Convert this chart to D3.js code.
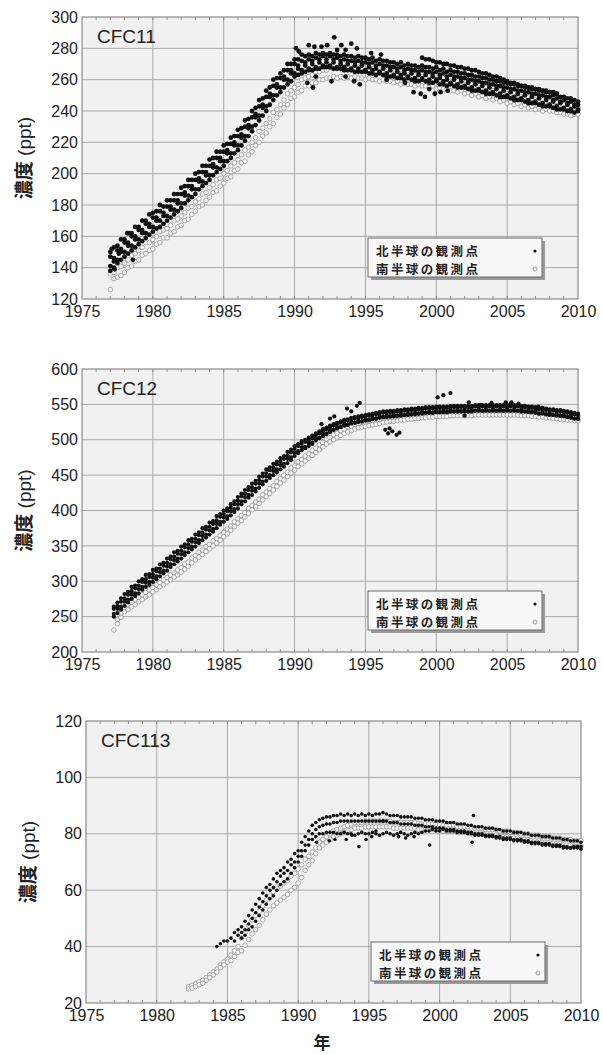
<!DOCTYPE html>
<html>
<head>
<meta charset="utf-8">
<script src="https://cdn.jsdelivr.net/npm/d3@7"></script>
<style>
  body { margin: 0; background: #fff; }
  svg { display: block; }
  text { font-family: "Liberation Sans", Arial, Helvetica, sans-serif; }
  .jp { font-family: "Noto Sans CJK JP", "Noto Sans CJK SC", sans-serif; }
</style>
</head>
<body>
<div id="chart"></div>
<script>
// ---- tick labels / text ----
const xTicks = [1975, 1980, 1985, 1990, 1995, 2000, 2005, 2010];
const yTicksCfc11 = [120, 140, 160, 180, 200, 220, 240, 260, 280, 300];
const yTicksCfc12 = [200, 250, 300, 350, 400, 450, 500, 550, 600];
const yTicksCfc113 = [20, 40, 60, 80, 100, 120];
const titles = ["CFC11", "CFC12", "CFC113"];
const legendLabels = ["北半球の観測点", "南半球の観測点"];
const yLabel = "濃度";
const yUnit = " (ppt)";
const xLabel = "年";

// samples are quarterly, one row per year (first value = Jan)
const sampleStep = 0.25;

// ---- CFC11, rows 1977..2010 ----
const cfc11NhA = [
  [150,153,154,158],[158,162,162,166],[166,170,170,174],[175,176,180,179],
  [183,183,187,187],[191,192,196,196],[200,201,205,205],[209,210,214,214],
  [218,219,223,224],[228,229,234,235],[240,242,247,248],[253,255,260,261],
  [264,266,270,270],[273,273,276,275],[276,275,277,276],[277,276,277,276],
  [276,275,276,275],[275,274,275,274],[274,273,274,272],[273,272,272,271],
  [271,270,271,269],[270,269,269,268],[269,268,268,267],[268,266,267,265],
  [266,265,265,264],[264,263,263,262],[262,261,261,260],[260,259,259,258],
  [258,257,257,256],[256,255,255,254],[254,253,253,252],[252,250,251,249],
  [249,248,248,247],[246]
];
const cfc11NhB = [
  [147,146,151,152],[156,156,160,160],[164,164,168,168],[172,172,176,175],
  [179,179,183,183],[187,188,192,192],[196,197,201,201],[205,206,210,210],
  [214,215,219,220],[224,225,230,231],[236,238,243,244],[249,251,256,257],
  [261,262,266,266],[270,269,272,271],[273,272,274,273],[275,273,275,273],
  [274,272,273,272],[272,271,272,271],[271,270,271,269],[270,269,269,268],
  [268,267,268,266],[267,266,266,265],[266,265,265,264],[265,263,264,262],
  [263,262,262,261],[261,260,260,259],[259,258,258,257],[257,256,256,255],
  [255,254,254,253],[253,252,252,251],[251,250,250,249],[249,247,248,246],
  [247,245,246,244],[244]
];
const cfc11NhC = [
  [141,144,145,150],[150,154,154,158],[158,162,162,166],[166,170,170,173],
  [173,177,177,181],[181,186,186,190],[190,195,195,199],[199,204,204,208],
  [208,213,213,218],[218,223,224,229],[230,236,237,242],[243,249,250,255],
  [255,260,260,264],[264,267,266,269],[267,270,268,271],[269,271,269,271],
  [268,270,268,270],[267,269,267,269],[266,268,266,267],[265,267,264,266],
  [263,265,263,264],[262,264,261,263],[261,263,260,262],[260,261,259,260],
  [258,260,257,259],[256,258,255,257],[254,256,253,255],[252,254,251,253],
  [250,252,249,251],[248,250,247,249],[246,248,245,247],[244,246,243,245],
  [242,244,241,243],[241]
];
const cfc11NhD = [
  [138,140,143,145],[147,149,151,153],[155,157,159,161],[163,165,166,168],
  [170,172,174,176],[178,181,183,185],[187,190,192,194],[196,199,201,203],
  [205,208,210,213],[215,218,221,224],[227,231,234,237],[240,244,247,250],
  [252,255,257,259],[262,263,264,265],[266,266,267,267],[268,268,268,267],
  [267,267,266,266],[266,265,265,265],[265,264,264,263],[264,263,262,262],
  [262,261,261,260],[261,260,259,259],[260,259,258,258],[259,257,257,256],
  [257,256,255,255],[255,254,253,253],[253,252,251,251],[251,250,249,249],
  [249,248,247,247],[247,246,245,245],[245,244,243,243],[243,242,241,241],
  [241,240,240,239],[240]
];
// rows 1999..2008
const cfc11NhE = [
  [274,273,273,272],[271,271,270,270],[269,269,268,268],[267,267,266,266],
  [265,264,264,263],[262,262,261,260],[259,258,258,257],[256,256,255,255],
  [254,254,253,253],[252,252,251]
];
const cfc11NhScatter = [
  [1977.1,152],[1977.3,139],[1977.6,149],[1978.2,162],[1978.6,145],
  [1990.1,280],[1990.3,278],[1991.0,282],[1991.4,281],[1991.9,281],
  [1992.3,282],[1992.8,287],[1993.0,279],[1993.3,282],[1993.6,279],
  [1994.0,283],[1994.4,280],[1995.4,277],[1996.1,276],[1990.9,258],
  [1991.3,255],[1991.5,262],[1992.6,259],[1993.6,262],[1994.2,259],
  [1994.6,257],[1998.4,252],[1998.9,251],[1999.2,249],[1999.5,254],
  [1999.9,251],[2000.3,252],[2000.8,253],[1997.8,258],[1996.5,260]
];
const cfc11ShA = [
  [136,137,140,141],[143,145,148,149],[151,153,156,156],[158,160,163,164],
  [165,167,170,171],[173,175,178,179],[182,184,187,188],[191,193,196,197],
  [200,202,205,207],[209,212,215,217],[220,223,227,229],[232,235,239,241],
  [244,247,251,253],[255,257,260,261],[262,263,265,265],[266,266,268,267],
  [267,267,268,267],[267,267,268,266],[266,266,267,265],[265,265,266,264],
  [264,264,264,263],[263,262,263,262],[262,261,262,261],[260,260,261,259],
  [259,258,259,258],[257,257,257,256],[255,255,255,254],[253,253,253,252],
  [251,251,251,250],[249,249,249,248],[247,247,247,246],[246,245,246,244],
  [244,243,244,243],[242]
];
const cfc11ShB = [
  [126,133,134,135],[137,140,141,144],[145,148,149,151],[152,155,156,159],
  [159,162,163,166],[167,170,171,174],[176,179,180,183],[185,188,189,192],
  [194,197,198,202],[203,207,208,212],[214,218,220,224],[226,230,232,236],
  [238,242,244,248],[249,252,253,256],[256,258,258,260],[260,261,261,262],
  [261,262,261,262],[261,262,261,261],[260,261,260,260],[259,260,259,259],
  [258,259,257,258],[257,257,256,257],[256,256,255,256],[254,255,254,254],
  [253,253,252,253],[251,252,250,251],[249,250,248,249],[247,248,246,247],
  [245,246,244,245],[243,244,242,243],[241,242,240,241],[240,240,239,239],
  [238,238,237,238],[238]
];

// ---- CFC12, rows 1977..2010 ----
const cfc12NhA = [
  [null,264,270,276],[282,285,292,294],[300,303,309,310],[316,318,324,326],
  [332,335,341,343],[349,352,358,360],[366,369,375,377],[383,385,392,395],
  [400,403,409,413],[419,424,429,433],[438,442,448,452],[458,461,466,469],
  [474,477,483,486],[491,494,498,500],[503,506,509,512],[515,517,520,522],
  [524,526,528,529],[531,532,533,534],[535,536,537,538],[539,540,540,541],
  [541,542,542,543],[543,544,544,545],[545,546,546,546],[547,547,547,547],
  [548,548,548,548],[548,548,548,549],[549,549,549,549],[549,549,549,549],
  [549,550,549,549],[548,548,547,547],[546,545,545,544],[543,543,542,542],
  [541,540,539,538],[537]
];
const cfc12NhB = [
  [null,261,265,271],[276,281,286,290],[294,299,303,306],[310,314,318,322],
  [326,331,335,339],[343,348,352,356],[360,365,369,373],[377,381,386,391],
  [395,399,404,409],[414,420,424,429],[433,438,443,448],[453,457,461,465],
  [469,473,478,482],[487,491,494,497],[499,502,506,509],[512,515,517,520],
  [522,524,526,527],[529,530,531,532],[533,534,535,536],[537,538,538,539],
  [539,540,540,541],[541,542,542,543],[543,544,544,544],[545,545,545,545],
  [546,546,546,546],[546,546,546,547],[547,547,547,547],[547,547,547,547],
  [547,547,547,547],[546,546,545,545],[544,543,543,542],[541,541,540,540],
  [539,538,537,536],[535]
];
const cfc12NhC = [
  [null,254,261,264],[271,274,281,283],[289,292,298,299],[305,307,313,315],
  [321,324,330,332],[338,341,347,349],[355,358,364,366],[372,374,381,384],
  [390,392,399,402],[409,413,419,422],[428,431,438,441],[448,450,456,458],
  [464,466,473,475],[482,484,489,490],[495,496,502,503],[508,509,513,514],
  [518,518,522,521],[525,524,527,526],[529,528,531,530],[533,532,534,533],
  [535,534,536,535],[537,536,538,537],[539,538,540,538],[541,539,541,539],
  [542,540,542,540],[542,540,542,541],[543,541,543,541],[543,541,543,541],
  [543,541,543,541],[542,540,541,539],[540,537,539,536],[537,535,536,534],
  [535,532,533,530],[531]
];
const cfc12NhD = [
  [null,250,255,260],[265,270,275,279],[283,288,292,295],[299,303,307,311],
  [315,320,324,328],[332,337,341,345],[349,354,358,362],[366,370,375,380],
  [384,388,393,398],[403,409,413,418],[422,427,432,437],[442,446,450,454],
  [458,462,467,471],[477,481,485,488],[491,494,499,502],[505,508,511,514],
  [516,518,520,521],[523,524,525,526],[527,528,529,530],[531,532,532,533],
  [533,534,534,535],[535,536,536,537],[537,538,538,538],[539,539,539,539],
  [540,540,540,540],[540,540,540,541],[541,541,541,541],[541,541,541,541],
  [541,541,541,541],[540,540,539,539],[538,537,537,536],[535,535,534,534],
  [533,532,531,530],[529]
];
const cfc12NhScatter = [
  [1991.9,522],[1992.5,530],[1992.8,533],[1993.7,544],[1994.0,540],
  [1994.4,548],[1994.6,552],[1996.4,514],[1996.6,509],[1996.7,516],
  [1996.9,512],[1997.2,507],[1997.4,510],[2000.1,560],[2000.5,563],
  [2001.0,566],[2002.3,553],[2003.1,549],[2003.9,552],[2004.9,553],
  [2005.3,553],[2002.0,534],[2005.8,551],[2007.2,547]
];
const cfc12ShA = [
  [null,null,246,255],[263,267,270,274],[277,281,284,288],[291,295,298,302],
  [305,309,312,316],[319,324,327,333],[336,341,344,349],[352,357,360,365],
  [369,374,378,384],[388,393,397,403],[407,412,416,422],[426,431,435,441],
  [445,450,454,460],[463,469,472,477],[480,485,488,493],[496,501,503,507],
  [509,513,515,518],[519,522,523,525],[525,527,527,529],[529,531,531,533],
  [532,534,534,535],[535,536,536,537],[537,538,538,539],[539,540,539,540],
  [540,541,540,541],[540,541,540,542],[541,542,541,542],[541,542,541,542],
  [541,542,541,542],[540,541,540,540],[539,539,538,538],[537,537,536,536],
  [535,535,534,534],[533]
];
const cfc12ShB = [
  [null,231,240,249],[257,260,264,267],[271,274,278,281],[285,288,292,295],
  [299,302,306,309],[313,317,321,326],[330,334,338,342],[346,350,354,358],
  [363,367,372,377],[382,386,391,396],[401,405,410,415],[420,424,429,434],
  [439,443,448,453],[457,462,466,470],[474,478,482,486],[490,494,497,500],
  [503,506,509,511],[513,515,517,518],[519,520,521,522],[523,524,525,526],
  [526,527,528,528],[529,529,530,530],[531,531,532,532],[533,533,533,533],
  [534,534,534,534],[534,534,534,535],[535,535,535,535],[535,535,535,535],
  [535,535,535,535],[534,534,534,533],[533,532,532,531],[531,530,530,529],
  [529,528,528,527],[527]
];

// ---- CFC113, NH rows 1984..2010, SH rows 1982..2010 ----
const cfc113NhA = [
  [null,40,41,42],[42,43,45,46],[47,49,51,53],[55,57,59,61],
  [62,64,66,67],[68,70,71,73],[74,77,79,81],[83,84,85,85.5],
  [86,86,86.5,86.5],[87,86.5,87,86.5],[87,86.5,87,86.5],[87,86.5,87,87],
  [87.5,87,86.5,86.5],[86.5,86,86,86],[86,85.5,85.5,85.5],[85,85,85,84.5],
  [84.5,84.5,84,84],[84,83.5,83.5,83.5],[83,83,82.5,82.5],[82.5,82,82,82],
  [81.5,81.5,81,81],[81,80.5,80.5,80.5],[80,80,79.5,79.5],[79.5,79,79,79],
  [78.5,78.5,78.5,78],[78,77.5,77.5,77.5],[77]
];
const cfc113NhB = [
  [null,null,null,null],[null,null,42,44],[45,46,48,50],[52,54,56,58],
  [60,61,63,65],[66,67,69,70],[72,74,76,78],[80,81.5,82.5,83],
  [83.5,83.5,84,84],[84.5,84.5,84.5,84.5],[84.5,84.5,84.5,84.5],[84.5,84.5,84.5,84.5],
  [84.5,84.5,84,84],[84,83.5,83.5,83.5],[83.5,83,83,83],[82.5,82.5,82.5,82],
  [82,82,81.5,81.5],[81.5,81,81,81],[80.5,80.5,80,80],[80,79.5,79.5,79.5],
  [79,79,78.5,78.5],[78.5,78,78,78],[77.5,77.5,77,77],[77,76.5,76.5,76.5],
  [76,76,76,75.5],[75.5,75,75,75],[74.5]
];
const cfc113NhC = [
  [null,null,null,null],[null,null,null,null],[43,44,46,47],[49,51,53,55],
  [57,58,60,62],[63,64,66,68],[70,72,74,76],[78,79,80,80],
  [80.5,80.5,80.5,80],[80,80.5,80,80],[79.5,80,80.5,80],[80,80.5,80,79.5],
  [80,80.5,80,79.5],[80,80.5,80,79.5],[80,80.5,80,80.5],[81,81,81.5,81],
  [81,81.5,81,81],[81,80.5,80.5,80.5],[80,80,79.5,79.5],[79.5,79,79,79],
  [78.5,78.5,78,78],[78,77.5,77.5,77.5],[77,77,76.5,76.5],[76.5,76,76,76],
  [75.5,75.5,75.5,75],[75,75,75.5,75.5],[75.5]
];
const cfc113NhScatter = [
  [1991.3,77],[1992.2,77.5],[1992.6,78],[1993.4,78],[1993.8,79.5],
  [1994.3,75.5],[1994.8,78],[1995.2,79],[1995.5,81],[1996.0,84.5],
  [1997.1,79],[1997.6,78.5],[1998.2,79],[1999.3,76],[2002.3,77],
  [2002.4,86.5]
];
const cfc113ShA = [
  [null,25.8,26.3,26.8],[27.5,28,29,30],[31,32,33.5,34.5],[35.5,37,38.5,40],
  [43,45,47.5,49.5],[51,52.5,54.5,56.5],[58,59.5,60.5,61.5],[62.5,63.5,65,66],
  [67.5,69,71,72],[73.5,75,77,78],[79,80,81,81.5],[82,82.5,83,83.5],
  [84,84,84,84.5],[84.5,84.5,84.5,84.5],[84.5,84.5,84.5,84],[84,84,84,84],
  [84,84,83.5,83.5],[83.5,83.5,83.5,83.5],[83.5,83,83,83],[83,82.5,82.5,82.5],
  [82.5,82,82,82],[82,81.5,81.5,81.5],[81.5,81,81,81],[80.5,80.5,80.5,80],
  [80,80,79.5,79.5],[79.5,79,79,79],[78.5,78.5,78.5,78],[78,78,77.5,77.5],
  [77.5]
];
const cfc113ShB = [
  [null,25,25.3,25.8],[26.5,27,28,29],[30,31,32.5,33.5],[34.5,35,36.5,38],
  [38.5,40.5,42.5,44.5],[46,47.5,49.5,51.5],[53,54.5,55.5,56.5],[57.5,58.5,60,61],
  [62.5,64.5,67,69],[70.5,73,75,76],[77,78,79,79.5],[80,80.5,81,81.5],
  [82,82,82,82.5],[82.5,82.5,82.5,82.5],[82.5,82.5,82.5,82],[82,82,82,82],
  [82,82,81.5,81.5],[81.5,81.5,81.5,81.5],[81.5,81,81,81],[81,80.5,80.5,80.5],
  [80.5,80,80,80],[80,79.5,79.5,79.5],[79.5,79,79,79],[78.5,78.5,78.5,78],
  [78,78,77.5,77.5],[77.5,77,77,77],[76.5,76.5,76.5,76],[76,76,75.5,75.5],
  [75.5]
];

function toPoints(firstYear, rows) {
  let pts = [];
  rows.forEach((row, i) => {
    row.forEach((v, j) => {
      if (v != null) pts.push({ t: firstYear + i + j * sampleStep, v: v });
    });
  });
  return pts;
}
function pairsToPoints(pairs) {
  return pairs.map(p => ({ t: p[0], v: p[1] }));
}

const panels = [
  {
    title: titles[0], yTicks: yTicksCfc11,
    left: 82, right: 578, top: 17, bottom: 299, dotR: 2.4,
    sh: [toPoints(1977, cfc11ShA), toPoints(1977, cfc11ShB)],
    nh: [toPoints(1977, cfc11NhD), toPoints(1977, cfc11NhC), toPoints(1977, cfc11NhB),
         toPoints(1977, cfc11NhA), toPoints(1999, cfc11NhE), pairsToPoints(cfc11NhScatter)]
  },
  {
    title: titles[1], yTicks: yTicksCfc12,
    left: 82, right: 578, top: 369, bottom: 652, dotR: 2.1,
    sh: [toPoints(1977, cfc12ShA), toPoints(1977, cfc12ShB)],
    nh: [toPoints(1977, cfc12NhD), toPoints(1977, cfc12NhC), toPoints(1977, cfc12NhB),
         toPoints(1977, cfc12NhA), pairsToPoints(cfc12NhScatter)]
  },
  {
    title: titles[2], yTicks: yTicksCfc113,
    left: 86, right: 581, top: 721, bottom: 1003, dotR: 1.8,
    sh: [toPoints(1982, cfc113ShA), toPoints(1982, cfc113ShB)],
    nh: [toPoints(1984, cfc113NhC), toPoints(1984, cfc113NhB), toPoints(1984, cfc113NhA),
         pairsToPoints(cfc113NhScatter)]
  }
];

const W = 603, H = 1055;
const svg = d3.select('#chart').append('svg')
  .attr('width', W).attr('height', H);

panels.forEach((p, k) => {
  let x = d3.scaleLinear().domain([xTicks[0], xTicks[xTicks.length - 1]]).range([p.left, p.right]);
  let y = d3.scaleLinear().domain([p.yTicks[0], p.yTicks[p.yTicks.length - 1]]).range([p.bottom, p.top]);
  let g = svg.append('g');

  g.append('rect')
    .attr('x', p.left).attr('y', p.top)
    .attr('width', p.right - p.left).attr('height', p.bottom - p.top)
    .attr('fill', '#f1f1f1');

  // grid
  g.selectAll('.vg').data(xTicks.slice(1, -1)).enter().append('line')
    .attr('x1', d => x(d)).attr('x2', d => x(d))
    .attr('y1', p.top).attr('y2', p.bottom)
    .attr('stroke', '#a9a9a9').attr('stroke-width', 1);
  g.selectAll('.hg').data(p.yTicks.slice(1, -1)).enter().append('line')
    .attr('x1', p.left).attr('x2', p.right)
    .attr('y1', d => y(d)).attr('y2', d => y(d))
    .attr('stroke', '#a9a9a9').attr('stroke-width', 1);

  // yearly minor ticks on top and bottom
  let years = d3.range(xTicks[0] + 1, xTicks[xTicks.length - 1]);
  g.selectAll('.mt').data(years).enter().append('line')
    .attr('x1', d => x(d)).attr('x2', d => x(d))
    .attr('y1', p.bottom).attr('y2', p.bottom - 3)
    .attr('stroke', '#777').attr('stroke-width', 0.8);
  g.selectAll('.mt2').data(years).enter().append('line')
    .attr('x1', d => x(d)).attr('x2', d => x(d))
    .attr('y1', p.top).attr('y2', p.top + 3)
    .attr('stroke', '#777').attr('stroke-width', 0.8);

  g.append('rect')
    .attr('x', p.left).attr('y', p.top)
    .attr('width', p.right - p.left).attr('height', p.bottom - p.top)
    .attr('fill', 'none').attr('stroke', '#8a8a8a').attr('stroke-width', 1.2);

  // axes labels
  let yAxis = d3.axisLeft(y).tickValues(p.yTicks).tickSize(0).tickPadding(4);
  let ya = g.append('g').attr('transform', 'translate(' + p.left + ',0)').call(yAxis);
  ya.select('.domain').remove();
  ya.selectAll('text').attr('font-size', 16).attr('fill', '#222')
    .style('font-family', '"Liberation Sans", Arial, sans-serif');

  let xAxis = d3.axisBottom(x).tickValues(xTicks).tickSize(0).tickPadding(7).tickFormat(d3.format('d'));
  let xa = g.append('g').attr('transform', 'translate(0,' + p.bottom + ')').call(xAxis);
  xa.select('.domain').remove();
  xa.selectAll('text').attr('font-size', 16).attr('fill', '#222')
    .style('font-family', '"Liberation Sans", Arial, sans-serif');

  // title
  g.append('text').attr('x', p.left + 15).attr('y', p.top + 26)
    .attr('font-size', 19).attr('fill', '#222').text(p.title);

  // y label
  let yl = g.append('text')
    .attr('transform', 'translate(' + (p.left - 51) + ',' + ((p.top + p.bottom) / 2) + ') rotate(-90)')
    .attr('text-anchor', 'middle').attr('font-size', 19).attr('fill', '#222');
  yl.append('tspan').attr('class', 'jp').attr('font-weight', 'bold').text(yLabel);
  yl.append('tspan').text(yUnit);

  // data: southern hemisphere first, northern on top
  p.sh.forEach(pts => {
    g.selectAll(null).data(pts).enter().append('circle')
      .attr('cx', d => x(d.t)).attr('cy', d => y(d.v)).attr('r', 2.3)
      .attr('fill', '#f6f6f6').attr('stroke', '#7a7a7a').attr('stroke-width', 0.6);
  });
  p.nh.forEach(pts => {
    g.selectAll(null).data(pts).enter().append('circle')
      .attr('cx', d => x(d.t)).attr('cy', d => y(d.v)).attr('r', p.dotR)
      .attr('fill', '#111');
  });

  // legend
  let lw = 174, lh = 39;
  let lx = p.right - 36 - lw, ly = p.bottom - 22 - lh;
  g.append('rect').attr('x', lx + 3).attr('y', ly + 3).attr('width', lw).attr('height', lh)
    .attr('fill', '#9a9a9a');
  g.append('rect').attr('x', lx).attr('y', ly).attr('width', lw).attr('height', lh)
    .attr('fill', '#f8f8f8').attr('stroke', '#6a6a6a').attr('stroke-width', 1);
  legendLabels.forEach((lab, i) => {
    g.append('text').attr('class', 'jp').attr('x', lx + 8).attr('y', ly + 17.5 + i * 18.5)
      .attr('font-size', 12.5).attr('letter-spacing', 2.4)
      .attr('font-weight', 'bold').attr('fill', '#222').text(lab);
  });
  g.append('circle').attr('cx', lx + lw - 7).attr('cy', ly + 13).attr('r', 1.6).attr('fill', '#111');
  g.append('circle').attr('cx', lx + lw - 7).attr('cy', ly + 31).attr('r', 2)
    .attr('fill', '#f8f8f8').attr('stroke', '#777').attr('stroke-width', 0.7);
});

// x axis title
svg.append('text').attr('class', 'jp')
  .attr('x', 322).attr('y', 1049).attr('text-anchor', 'middle')
  .attr('font-size', 17).attr('font-weight', 'bold').attr('fill', '#222').text(xLabel);
</script>
</body>
</html>
